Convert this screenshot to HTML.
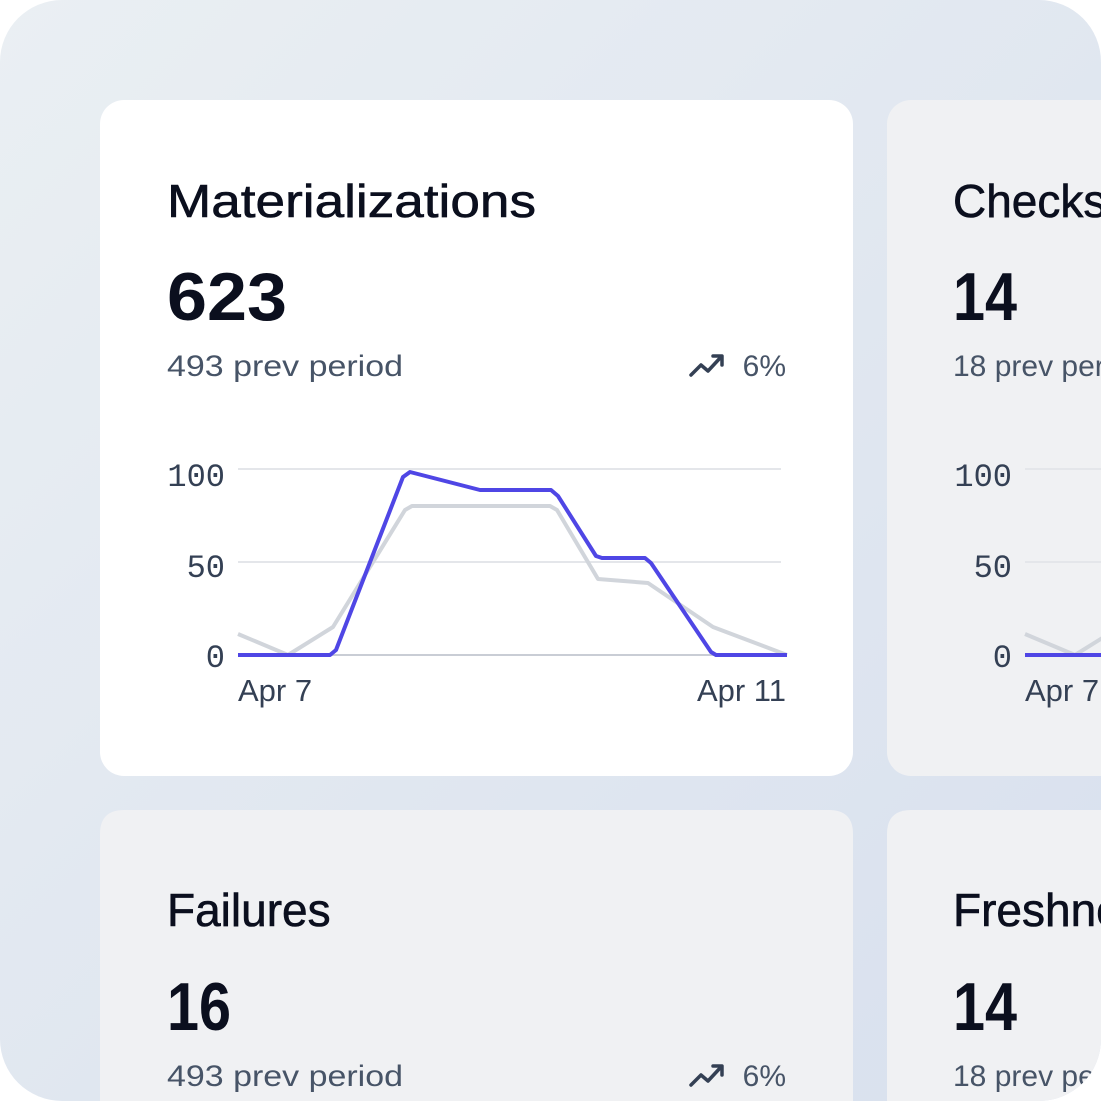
<!DOCTYPE html><html><head><style>html,body{margin:0;padding:0;background:#fff;width:1101px;height:1101px;overflow:hidden}svg{display:block}</style></head><body>
<svg width="1101" height="1101" viewBox="0 0 1101 1101" xmlns="http://www.w3.org/2000/svg" font-family="Liberation Sans, sans-serif">
<defs>
<linearGradient id="bg" x1="0" y1="0" x2="1" y2="1"><stop offset="0" stop-color="#eaeff3"/><stop offset="1" stop-color="#d8e0ee"/></linearGradient>
<clipPath id="outer"><rect x="0" y="0" width="1101" height="1101" rx="62"/></clipPath>
<g id="chart">
<line x1="238" y1="469" x2="781" y2="469" stroke="#e4e6ea" stroke-width="2"/>
<line x1="238" y1="562" x2="781" y2="562" stroke="#e4e6ea" stroke-width="2"/>
<line x1="238" y1="655" x2="787" y2="655" stroke="#c9cdd5" stroke-width="2"/>
<polyline fill="none" stroke="#d1d5db" stroke-width="4" stroke-linejoin="round" points="238,634 288,655 333,627 405,510 412,506 550,506 557,510 598,579 648,583 713,627 787,655"/>
<polyline fill="none" stroke="#4f46e5" stroke-width="4" stroke-linejoin="round" points="238,655 330,655 336,650 403,477 410,472 480,490 551,490 558,496 596,556 602,558 645,558 651,563 711,652 716,655 787,655"/>
<g font-family="Liberation Mono, monospace" font-size="32" fill="#344054" text-anchor="end">
<text x="225" y="486">100</text><text x="225" y="577">50</text><text x="225" y="667">0</text></g>
<g font-size="31" fill="#344054"><text x="238" y="701">Apr 7</text><text x="786" y="701" text-anchor="end">Apr 11</text></g>
</g>
</defs>
<g clip-path="url(#outer)">
<rect width="1101" height="1101" fill="url(#bg)"/>
<rect x="100" y="100" width="753" height="676" rx="24" fill="#ffffff"/>
<rect x="887" y="100" width="300" height="676" rx="24" fill="#f0f1f3"/>
<path d="M100,1101 V834 Q100,810 124,810 H829 Q853,810 853,834 V1101 Z" fill="#f0f1f3"/>
<path d="M887,1101 V834 Q887,810 911,810 H1190 V1101 Z" fill="#f0f1f3"/>
<g fill="#0b0f1e" stroke="#0b0f1e" stroke-width="0.6">
<text x="167" y="217" font-size="46" textLength="369" lengthAdjust="spacingAndGlyphs">Materializations</text>
<text x="953" y="217" font-size="46">Checks</text>
<text x="167" y="926" font-size="46">Failures</text>
<text x="953" y="926" font-size="46">Freshness</text>
</g>
<g fill="#0b0f1e" font-weight="bold">
<text x="167" y="320" font-size="68" textLength="120" lengthAdjust="spacingAndGlyphs">623</text>
<text x="953" y="320" font-size="68" textLength="64" lengthAdjust="spacingAndGlyphs">14</text>
<text x="167" y="1030" font-size="68" textLength="64" lengthAdjust="spacingAndGlyphs">16</text>
<text x="953" y="1030" font-size="68" textLength="64" lengthAdjust="spacingAndGlyphs">14</text>
</g>
<g fill="#475467" font-size="30">
<text x="167" y="376" textLength="236" lengthAdjust="spacingAndGlyphs">493 prev period</text>
<text x="786" y="376" text-anchor="end">6%</text>
<text x="953" y="376">18 prev period</text>
<text x="167" y="1086" textLength="236" lengthAdjust="spacingAndGlyphs">493 prev period</text>
<text x="786" y="1086" text-anchor="end">6%</text>
<text x="953" y="1086">18 prev period</text>
</g>
<g fill="none" stroke="#344054" stroke-width="3.5" stroke-linejoin="round" stroke-linecap="round">
<polyline points="691,375 701,365 708,371 721,357"/><polyline points="713,356 722,356 722,365"/>
<polyline points="691,1085 701,1075 708,1081 721,1067"/><polyline points="713,1066 722,1066 722,1075"/>
</g>
<use href="#chart"/>
<use href="#chart" transform="translate(787,0)"/>
</g>
</svg>
</body></html>
